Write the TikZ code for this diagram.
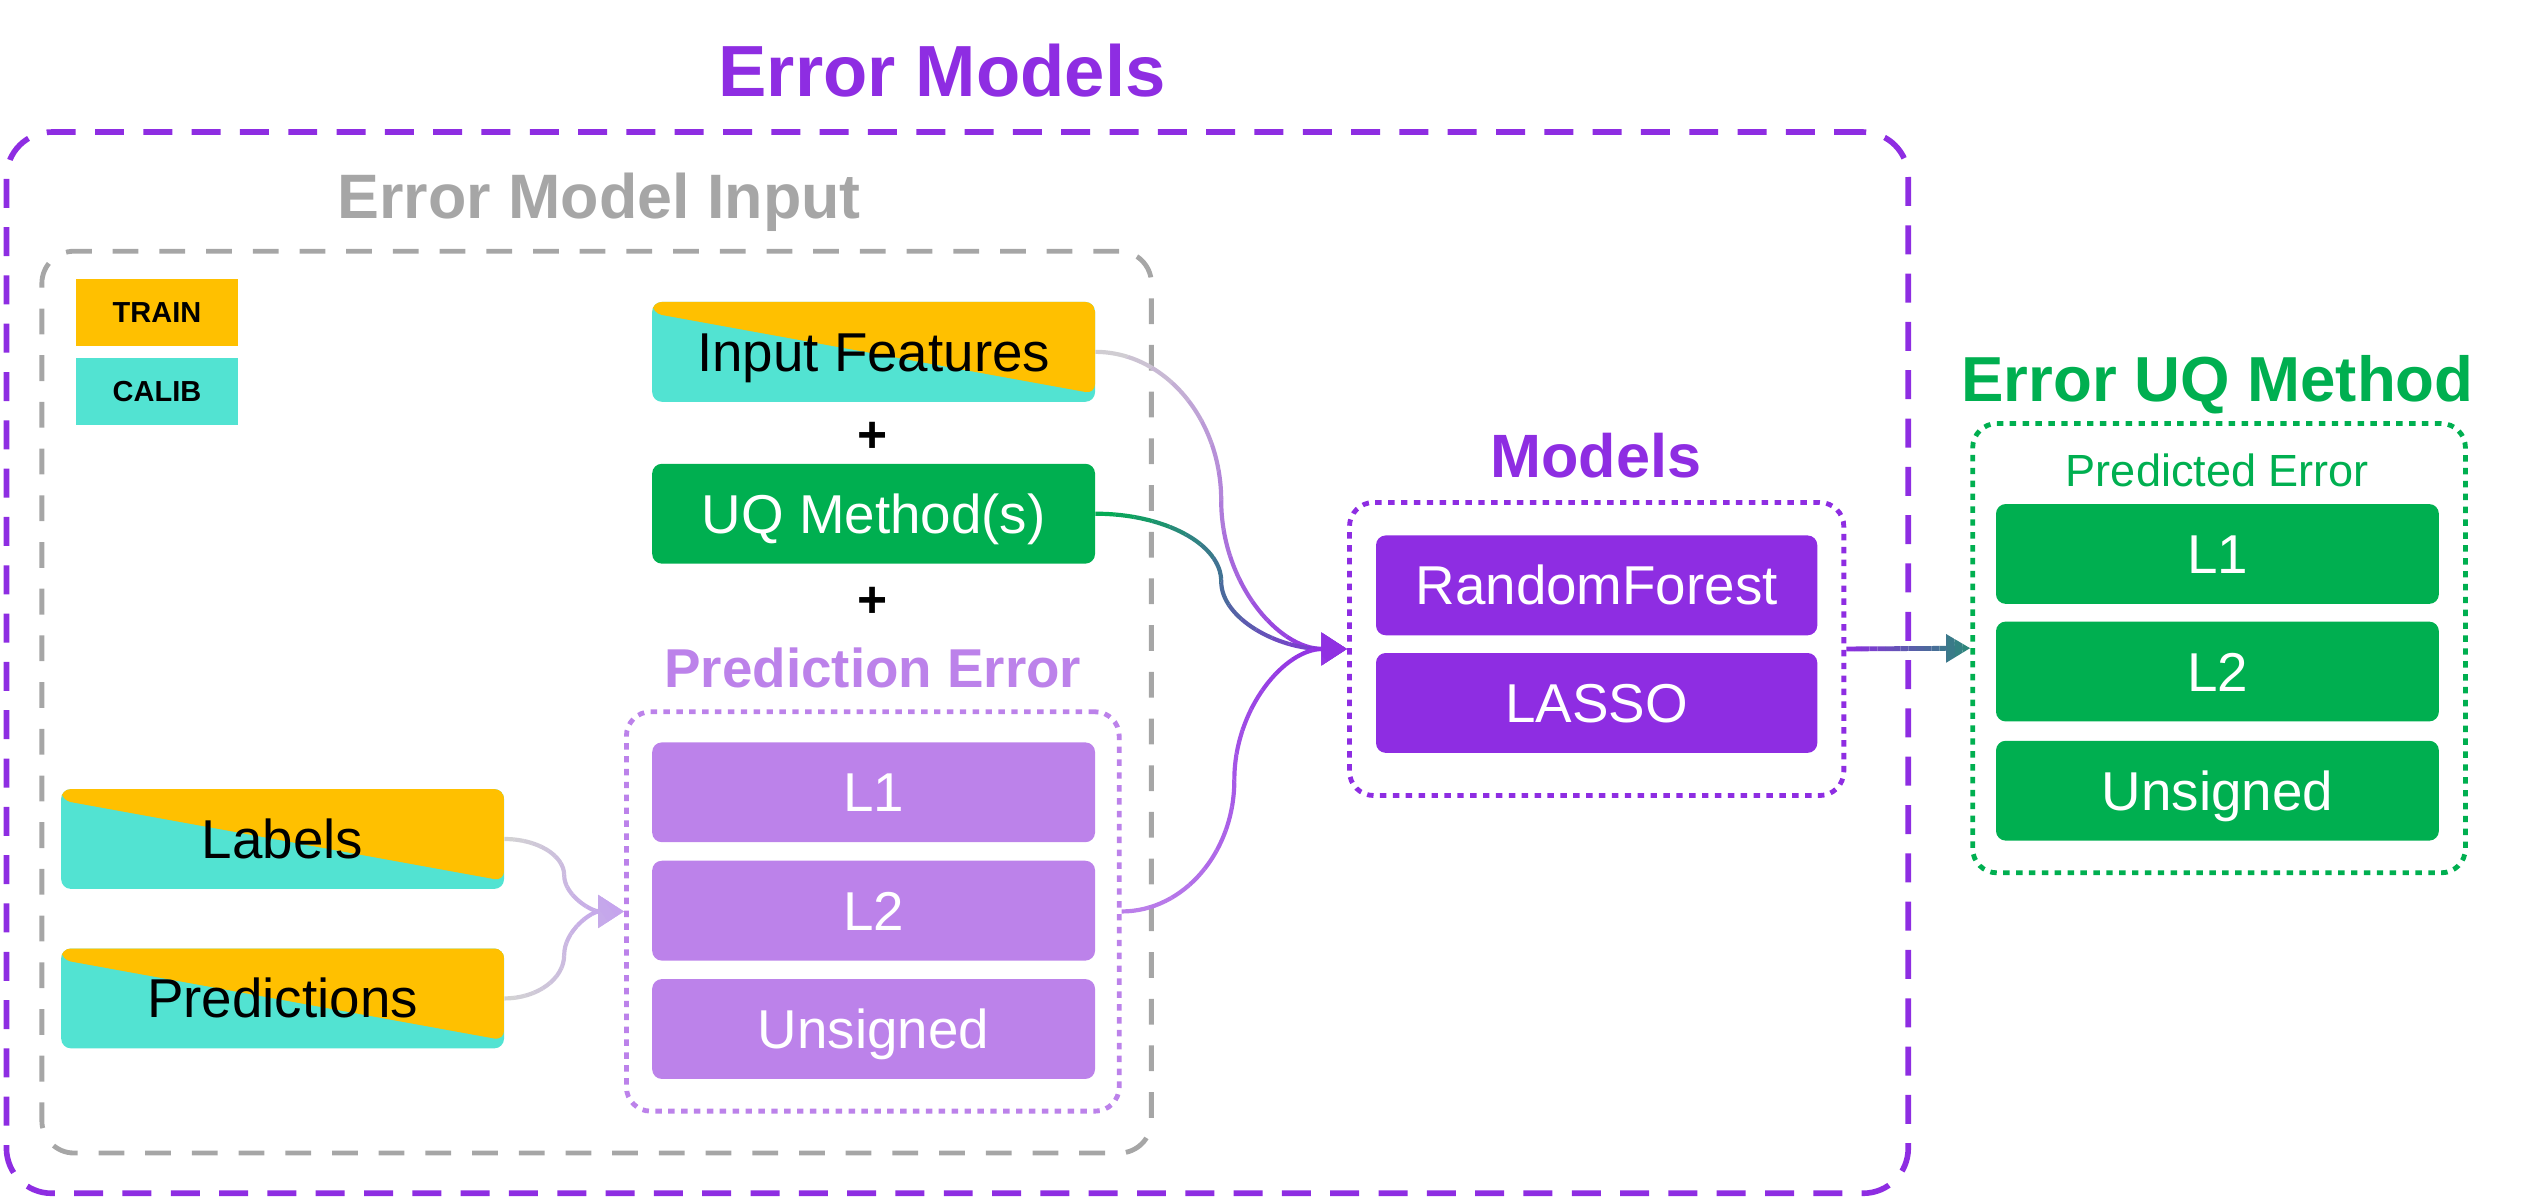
\documentclass[tikz,border=0pt]{standalone}
\usepackage{fontspec}
\setmainfont{Liberation Sans}
\usetikzlibrary{arrows.meta,calc}
\definecolor{purp}{HTML}{8E2DE2}
\definecolor{lav}{HTML}{BC82EA}
\definecolor{grn}{HTML}{00AF50}
\definecolor{orng}{HTML}{FFC000}
\definecolor{turq}{HTML}{52E3D2}
\definecolor{gry}{HTML}{A6A6A6}
\definecolor{lgry}{HTML}{D2D2D2}
\definecolor{teal2}{HTML}{2A8A78}
\definecolor{lavlt}{HTML}{C4A2EE}
\tikzset{
  capt/.style={text height=#1, text depth=0pt, inner sep=0pt},
  box/.style={rectangle, rounded corners=6pt, minimum width=275pt, minimum height=62pt,
    inner sep=0pt, text height=24.3pt, text depth=0pt, font=\fontsize{34}{40}\selectfont, text=white},
  splitbox/.style={box, fill=turq, text=black,
    path picture={\fill[orng] ([yshift=-7pt]path picture bounding box.north west) --
      (path picture bounding box.north west) -- (path picture bounding box.north east) --
      ([yshift=5pt]path picture bounding box.south east) -- cycle;}},
  legbox/.style={rectangle, minimum width=101pt, minimum height=42pt, inner sep=0pt,
    text height=12.9pt, text depth=0pt, font=\bfseries\fontsize{18}{20}\selectfont},
  outerbox/.style={draw=purp, line width=3.5pt, dash pattern=on 18pt off 12pt, rounded corners=28pt, inner sep=0pt},
  graybox/.style={draw=gry, line width=3pt, dash pattern=on 16pt off 13pt, rounded corners=20pt, inner sep=0pt},
  dotbox/.style={line width=3pt, dash pattern=on 4pt off 4pt, rounded corners=15pt, inner sep=0pt},
  lnk/.style={line width=2.6pt, -{Triangle[length=16pt,width=20pt]}},
  lnkstraight/.style={line width=3pt, -{Triangle[length=15pt,width=17pt]}},
}
% gradient connector: #1 start, #2 end, #3 start colour, #4 end colour, #5 style, #6 curved (1) or straight (0)
\newcommand\gradlink[6]{%
  \coordinate (gA) at (#1); \coordinate (gB) at (#2);
  \coordinate (gC) at ($(gA)!0.5!(gB)$);
  \coordinate (gP) at ($(gA)!300pt!90:(gB)$);
  \coordinate (gM) at ($(gA)!300pt!-90:(gB)$);
  \foreach \k in {0,...,15}{%
    \pgfmathsetmacro\ta{ifthenelse(\k==0,-0.3,\k/16)}%
    \pgfmathsetmacro\tb{ifthenelse(\k==15,1.3,(\k+1)/16)}%
    \pgfmathtruncatemacro\mx{100*(\k+0.5)/16}%
    \begin{scope}
      \clip ($(gA)!\ta!(gB)+(gP)-(gA)$) -- ($(gA)!\tb!(gB)+(gP)-(gA)$) --
            ($(gA)!\tb!(gB)+(gM)-(gA)$) -- ($(gA)!\ta!(gB)+(gM)-(gA)$) -- cycle;
      \ifnum#6=1
        \draw[#5, draw=#4!\mx!#3] (#1)
          .. controls ($(gA)!0.55!(gA -| gC)$) and ($(gC)!0.55!(gC |- gA)$) .. (gC)
          .. controls ($(gC)!0.55!(gC |- gB)$) and ($(gB)!0.55!(gB -| gC)$) .. (#2);
      \else
        \draw[#5, draw=#4!\mx!#3] (#1) -- (#2);
      \fi
    \end{scope}
  }%
}
\begin{document}
\begin{tikzpicture}[x=1pt,y=-1pt]
\useasboundingbox (0,0) rectangle (1568,745);

% containers
\node[outerbox, minimum width=1181pt, minimum height=659pt] (outer) at (594.5,411.5) {};
\node[graybox, minimum width=689pt, minimum height=560pt] (inbox) at (370.5,436) {};
\node[dotbox, draw=lav, minimum width=306pt, minimum height=248pt] (pebox) at (542,566) {};
\node[dotbox, draw=purp, minimum width=307pt, minimum height=182pt] (modbox) at (991.5,403) {};
\node[dotbox, draw=grn, minimum width=306pt, minimum height=279pt] (gbox) at (1378,402.5) {};

% titles
\node[capt=32.2pt, text=purp, font=\bfseries\fontsize{45}{50}\selectfont] (tEM) at (585,44) {Error Models};
\node[capt=27.9pt, text=gry, font=\bfseries\fontsize{39}{44}\selectfont] (tEMI) at (372,122) {Error Model Input};
\node[capt=24.3pt, text=lav, font=\bfseries\fontsize{34}{40}\selectfont] (tPE) at (542,415) {Prediction Error};
\node[capt=27.2pt, text=purp, font=\bfseries\fontsize{38}{44}\selectfont] (tMod) at (991,283) {Models};
\node[capt=28.3pt, text=grn, font=\bfseries\fontsize{39.5}{45}\selectfont] (tUQ) at (1377,235) {Error UQ Method};
\node[capt=20pt, text=grn, font=\fontsize{28}{32}\selectfont] (tPred) at (1377,292) {Predicted Error};

% legend
\node[legbox, fill=orng] (train) at (97.5,194) {TRAIN};
\node[legbox, fill=turq] (calib) at (97.5,243) {CALIB};

% inputs
\node[splitbox] (inp) at (542.5,218.5) {Input Features};
\node[capt=22.4pt, font=\bfseries\fontsize{32}{36}\selectfont] (plus1) at (542,270) {+};
\node[box, fill=grn] (uq) at (542.5,319) {UQ Method(s)};
\node[capt=22.4pt, font=\bfseries\fontsize{32}{36}\selectfont] (plus2) at (542,372) {+};
\node[box, fill=lav] (l1) at (542.5,492) {L1};
\node[box, fill=lav] (l2) at (542.5,565.5) {L2};
\node[box, fill=lav] (uns) at (542.5,639) {Unsigned};
\node[splitbox] (lab) at (175.5,521) {Labels};
\node[splitbox] (pred) at (175.5,620) {Predictions};

% models
\node[box, fill=purp, minimum width=274pt] (rf) at (991.5,363.5) {RandomForest};
\node[box, fill=purp, minimum width=274pt] (lasso) at (991.5,436.5) {LASSO};

% outputs
\node[box, fill=grn] (gl1) at (1377,344) {L1};
\node[box, fill=grn] (gl2) at (1377,417) {L2};
\node[box, fill=grn] (guns) at (1377,491) {Unsigned};

% connectors
\gradlink{lab.east}{pebox.west}{lgry}{lavlt}{lnk}{1}
\gradlink{pred.east}{pebox.west}{lgry}{lavlt}{lnk}{1}
\gradlink{inp.east}{modbox.west}{lgry}{purp}{lnk}{1}
\gradlink{uq.east}{modbox.west}{grn}{purp}{lnk}{1}
\gradlink{pebox.east}{modbox.west}{lav}{purp}{lnk}{1}
\gradlink{modbox.east}{gbox.west}{purp}{teal2}{lnkstraight}{0}
\end{tikzpicture}
\end{document}
